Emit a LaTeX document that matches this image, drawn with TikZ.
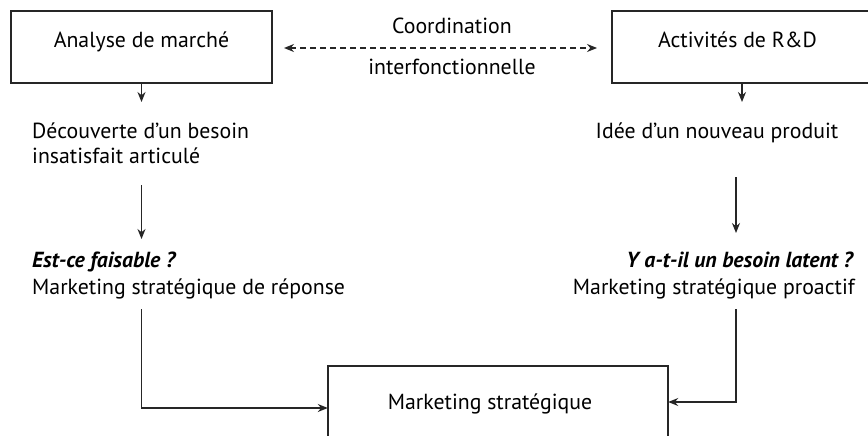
\documentclass[tikz,border=0pt]{standalone}
\usepackage{fontspec}
\setmainfont{PT Sans}
\usetikzlibrary{arrows.meta}
\begin{document}
\begin{tikzpicture}[x=1pt,y=-1pt,
  every node/.style={inner sep=0pt, font=\fontsize{21.8}{25}\selectfont},
  boxstyle/.style={draw=black!85, line width=1.3pt},
  conn/.style={draw=black!85, line width=1.3pt, -{Stealth[length=10pt,width=8pt]}},
  dconn/.style={draw=black!85, line width=1.3pt, dash pattern=on 6pt off 4pt, {Stealth[length=10pt,width=8pt]}-{Stealth[length=10pt,width=8pt]}},
  q/.style={font=\fontsize{21.8}{25}\selectfont\bfseries\itshape}]
\clip (0,0) rectangle (868,436);
\fill[white] (0,0) rectangle (868,436);
% boxes
\draw[boxstyle] (11,11) rectangle (272,83);
\node[minimum width=261pt, minimum height=72pt] (boxA) at (141.5,47) {};
\node[minimum width=261pt, minimum height=72pt] (boxB) at (742.5,47) {};
\draw[boxstyle] (612,11) rectangle (873,83);
\node[minimum width=340pt, minimum height=80pt] (boxC) at (498,406) {};
\draw[boxstyle] (328,366) rectangle (668,446);
% box texts
\node[anchor=base] (tA) at (141.5,48) {Analyse de marché};
\node[anchor=base] (tB) at (737.5,48) {Activités de R\&D};
\node[anchor=base] (tC) at (490,409) {Marketing stratégique};
% coordination
\node[anchor=base] (coord1) at (452,34) {Coordination};
\node[anchor=base] (coord2) at (452,75) {interfonctionnelle};
\coordinate (dl) at (284,48);
\coordinate (dr) at (597,48);
\draw[dconn] (dl) -- (dr);
% left column
\coordinate (a1s) at (141.5,83);
\coordinate (a1e) at (141.5,102);
\draw[conn] (a1s) -- (a1e);
\node[anchor=base west] (dec1) at (32,139) {Découverte d’un besoin};
\node[anchor=base west] (dec2) at (32,163) {insatisfait articulé};
\coordinate (a2s) at (141.5,185);
\coordinate (a2e) at (141.5,239);
\draw[conn] (a2s) -- (a2e);
\node[anchor=base west, q] (est) at (32,267) {Est-ce faisable ?};
\node[anchor=base west] (mrep) at (32,294) {Marketing stratégique de réponse};
\coordinate (a3s) at (141.5,309);
\coordinate (a3c) at (141.5,408);
\draw[conn] (a3s) -- (a3c) -- (a3c -| boxC.west);
% right column
\coordinate (b1s) at (742,83);
\coordinate (b1e) at (742,102);
\draw[conn] (b1s) -- (b1e);
\node[anchor=base] (idee) at (717,139) {Idée d’un nouveau produit};
\coordinate (b2s) at (736,177);
\coordinate (b2e) at (736,233);
\draw[conn] (b2s) -- (b2e);
\node[anchor=base east, q] (ya) at (853,267) {Y a-t-il un besoin latent ?};
\node[anchor=base east] (mpro) at (855,294) {Marketing stratégique proactif};
\coordinate (b3s) at (736,309);
\coordinate (b3c) at (736,402);
\draw[conn] (b3s) -- (b3c) -- (b3c -| boxC.east);
\end{tikzpicture}
\end{document}
